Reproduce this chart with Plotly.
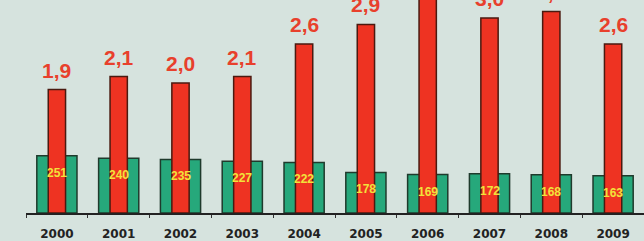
import plotly.graph_objects as go

years = ["2000", "2001", "2002", "2003", "2004", "2005", "2006", "2007", "2008", "2009"]
green_values = [251, 240, 235, 227, 222, 178, 169, 172, 168, 163]
red_values = [1.9, 2.1, 2.0, 2.1, 2.6, 2.9, 3.4, 3.0, 3.1, 2.6]
red_labels = ["1,9", "2,1", "2,0", "2,1", "2,6", "2,9", "3,4", "3,0", "3,1", "2,6"]
green_labels = [str(v) for v in green_values]

BG = "#d6e3de"

fig = go.Figure()
fig.add_trace(go.Bar(
    x=years, y=green_values, yaxis="y", width=0.65,
    marker=dict(color="#26a87b", line=dict(color="#1f3a2c", width=1.5)),
    hoverinfo="skip",
))
fig.add_trace(go.Bar(
    x=years, y=red_values, yaxis="y2", width=0.28,
    marker=dict(color="#ee3322", line=dict(color="#4a1a10", width=1.5)),
    hoverinfo="skip",
))

annotations = []
for i, (v, lab) in enumerate(zip(red_values, red_labels)):
    annotations.append(dict(
        x=i, y=v, xref="x", yref="y2", text=lab, showarrow=False,
        yanchor="bottom", yshift=6,
        font=dict(family="Liberation Sans", size=21, color="#e8402c", weight="bold"),
    ))
for i, (v, lab) in enumerate(zip(green_values, green_labels)):
    annotations.append(dict(
        x=i, y=v, xref="x", yref="y", text=lab, showarrow=False,
        yanchor="middle", yshift=-17,
        font=dict(family="Liberation Sans", size=12, color="#f2e23a", weight="bold"),
    ))

fig.update_layout(
    width=644, height=241,
    margin=dict(l=26, r=0, t=0, b=28),
    paper_bgcolor=BG, plot_bgcolor=BG,
    barmode="overlay", showlegend=False,
    annotations=annotations,
    xaxis=dict(
        type="category", showgrid=False, showline=True, linecolor="#222222", linewidth=1.5,
        ticks="outside", tickson="boundaries", ticklen=3, tickcolor="#333333",
        tickfont=dict(family="DejaVu Sans", size=12, color="#222222", weight="bold"),
        ticklabelstandoff=9,
        range=[-0.5, 9.5],
    ),
    yaxis=dict(range=[0, 935], visible=False, showgrid=False, zeroline=False),
    yaxis2=dict(range=[0, 3.277], overlaying="y", visible=False, showgrid=False, zeroline=False),
)

fig.write_html(
    "out.html",
    config={"displayModeBar": False},
    post_script="document.body.style.margin='0px';document.body.style.background='%s';" % BG,
)
